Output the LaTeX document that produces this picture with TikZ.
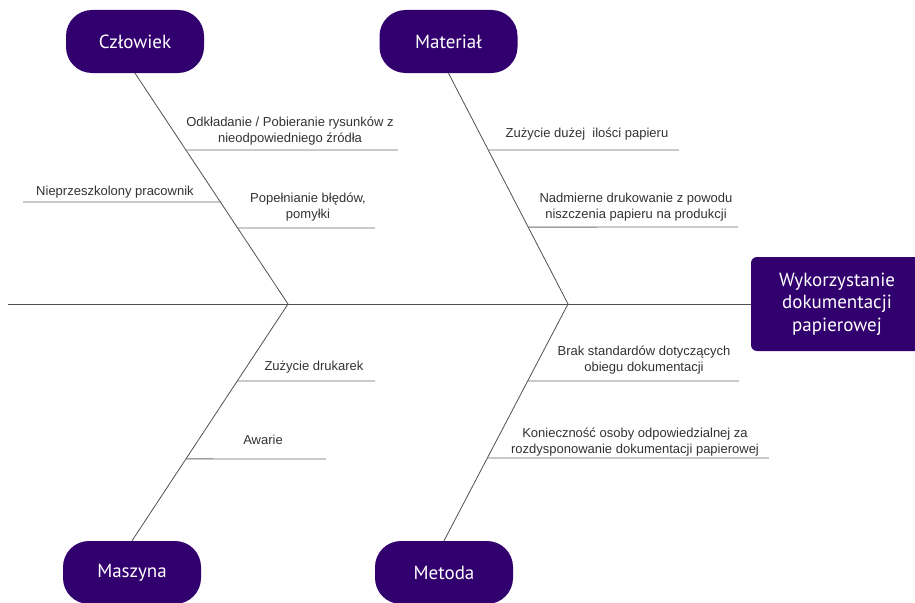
\documentclass[tikz,border=0pt]{standalone}
\usepackage{fontspec}
\setmainfont{Liberation Sans}
\newfontfamily\boxfont{PT Sans}
\usepackage{xcolor}
\usetikzlibrary{positioning, calc}

\definecolor{fishpurple}{RGB}{50,0,110}
\definecolor{bonegray}{RGB}{80,80,80}
\definecolor{labelgray}{RGB}{50,50,50}

\begin{document}
\begin{tikzpicture}[x=1pt, y=-1pt,
  cause/.style={fill=fishpurple, text=white, rounded corners=26pt, minimum width=138pt, minimum height=63pt, font=\boxfont\fontsize{19}{22}\selectfont},
  effect/.style={fill=fishpurple, text=white, rounded corners=6pt, minimum width=172pt, minimum height=94pt, align=center, font=\boxfont\fontsize{19}{22.5}\selectfont},
  bone/.style={draw=bonegray, line width=0.8pt},
  twig/.style={draw=bonegray!85, line width=0.8pt},
  lbl/.style={text=labelgray, align=center, font=\fontsize{13}{16}\selectfont, inner sep=0pt}]

\useasboundingbox (0,0) rectangle (915,602);

% main boxes
\node [cause] (czlowiek) at (135,41.5) {Człowiek};
\node [cause] (material) at (448.5,41.5) {Materiał};
\node [cause] (maszyna) at (132,572.5) {Maszyna};
\node [cause] (metoda) at (444,572.5) {Metoda};
\node [effect] (skutek) at (837,304) {Wykorzystanie\\dokumentacji\\papierowej};

% spine and bones
\coordinate (ogon) at (8,304);
\coordinate (jL) at (288,304);
\coordinate (jR) at (568,304);

\draw [bone] (ogon) -- (skutek.west);
\draw [bone] (czlowiek.south) -- (jL) -- (maszyna.north);
\draw [bone] (material.south) -- (jR) -- (metoda.north);

% Czlowiek
\coordinate (cz1) at ($(czlowiek.south)!0.333!(jL)$);
\coordinate (cz1e) at (398,150);
\coordinate (cz2) at ($(czlowiek.south)!0.558!(jL)$);
\coordinate (cz2e) at (23,202);
\coordinate (cz3) at ($(czlowiek.south)!0.671!(jL)$);
\coordinate (cz3e) at (375,228);
\draw [twig] (cz1) -- (cz1e);
\draw [twig] (cz2e) -- (cz2);
\draw [twig] (cz3) -- (cz3e);
\node [lbl] (odkl) at (290,131) {Odkładanie / Pobieranie rysunków z\\nieodpowiedniego źródła};
\node [lbl] (niep) at (115,192) {Nieprzeszkolony pracownik};
\node [lbl] (pope) at (308,207.5) {Popełnianie błędów,\\pomyłki};

% Material
\coordinate (ma1) at ($(material.south)!0.333!(jR)$);
\coordinate (ma1e) at (679,150);
\coordinate (ma2) at ($(material.south)!0.667!(jR)$);
\coordinate (ma2e) at (738,227);
\draw [twig] (ma1) -- (ma1e);
\draw [twig] (ma2) -- (ma2e);
\node [lbl] (zuzp) at (587,134) {Zużycie dużej\ \ ilości papieru};
\node [lbl] (nadm) at (636,207) {Nadmierne drukowanie z powodu\\niszczenia papieru na produkcji};

% Maszyna
\coordinate (msz1) at ($(jL)!0.325!(maszyna.north)$);
\coordinate (msz1e) at (375,381);
\coordinate (msz2) at ($(jL)!0.654!(maszyna.north)$);
\coordinate (msz2e) at (326,459);
\draw [twig] (msz1) -- (msz1e);
\draw [twig] (msz2) -- (msz2e);
\node [lbl] (zudr) at (314,367) {Zużycie drukarek};
\node [lbl] (awar) at (263,440) {Awarie};

% Metoda
\coordinate (me1) at ($(jR)!0.325!(metoda.north)$);
\coordinate (me1e) at (739,381);
\coordinate (me2) at ($(jR)!0.65!(metoda.north)$);
\coordinate (me2e) at (769,458);
\draw [twig] (me1) -- (me1e);
\draw [twig] (me2) -- (me2e);
\node [lbl] (brak) at (644,360) {Brak standardów dotyczących\\obiegu dokumentacji};
\node [lbl] (koni) at (635,442) {Konieczność osoby odpowiedzialnej za\\rozdysponowanie dokumentacji papierowej};

\end{tikzpicture}
\end{document}
